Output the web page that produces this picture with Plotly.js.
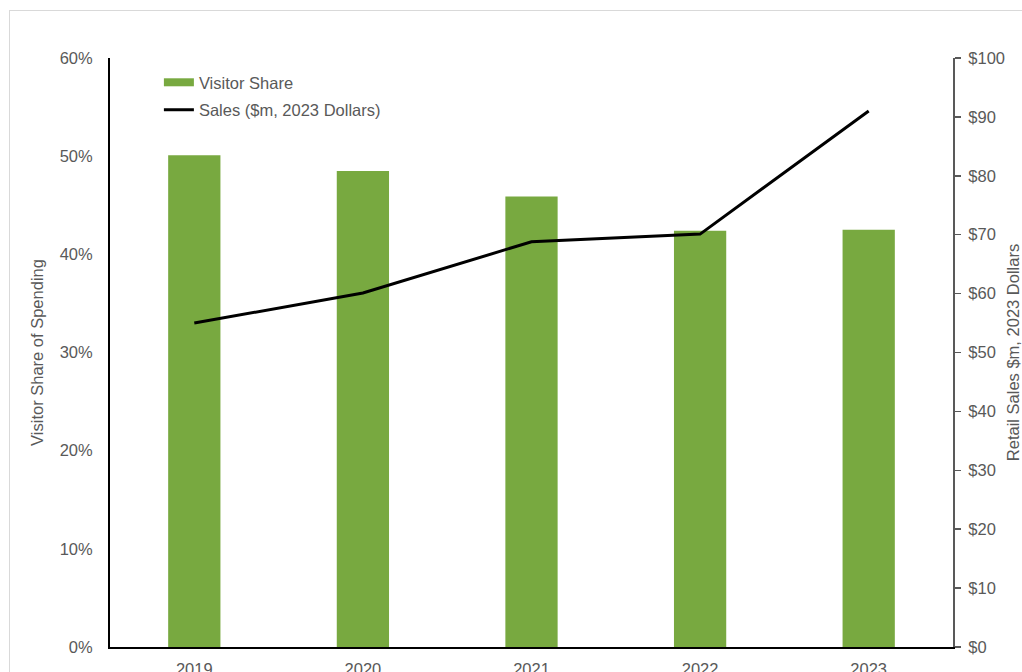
<!DOCTYPE html>
<html>
<head>
<meta charset="utf-8">
<script src="https://cdn.plot.ly/plotly-3.0.1.min.js"></script>
<style>
  html, body { margin: 0; padding: 0; background: #fff; overflow: hidden; }
  #wrap { position: relative; width: 1022px; height: 672px; overflow: hidden; }
  #chart { position: absolute; left: 0; top: 0; width: 1022px; height: 672px; }
  #frame { position: absolute; left: 9px; top: 10px; width: 1200px; height: 900px;
           border: 1px solid #d9d9d9; pointer-events: none; }
</style>
</head>
<body>
<div id="wrap">
  <div id="frame"></div>
  <div id="chart"></div>
</div>
<script>
const years = ['2019', '2020', '2021', '2022', '2023'];
const visitorShare = [0.501, 0.485, 0.459, 0.424, 0.425];
const salesMillions = [55.0, 60.1, 68.8, 70.1, 91.0];
const leftTicks = [0, 0.1, 0.2, 0.3, 0.4, 0.5, 0.6];
const rightTicks = [0, 10, 20, 30, 40, 50, 60, 70, 80, 90, 100];
const rightTickText = rightTicks.map(v => '$' + v);

const green = '#78A940';
const txt = '#595959';
const font = { family: '"Liberation Sans", Arial, sans-serif', size: 16.5, color: txt };

const traces = [
  {
    type: 'bar', x: years, y: visitorShare, name: 'Visitor Share',
    marker: { color: green }, width: 0.31, yaxis: 'y', showlegend: false,
    hoverinfo: 'x+y'
  },
  {
    type: 'scatter', mode: 'lines', x: [null], y: [null], name: 'Visitor Share',
    line: { color: green, width: 8 }, yaxis: 'y', legendgroup: 'a', showlegend: true
  },
  {
    type: 'scatter', mode: 'lines', x: years, y: salesMillions,
    name: 'Sales ($m, 2023 Dollars)', line: { color: '#000000', width: 3 },
    yaxis: 'y2', legendgroup: 'b'
  }
];

const layout = {
  width: 1022, height: 672,
  margin: { l: 110, r: 69, t: 58, b: 25, pad: 0 },
  paper_bgcolor: 'rgba(0,0,0,0)', plot_bgcolor: 'rgba(0,0,0,0)',
  font: font,
  showlegend: true,
  legend: {
    x: 0.058, y: 0.988, xanchor: 'left', yanchor: 'top',
    bgcolor: 'rgba(0,0,0,0)', font: font, tracegroupgap: 3,
    traceorder: 'grouped'
  },
  xaxis: {
    type: 'category', showline: true, linecolor: '#000', linewidth: 2,
    ticks: '', showgrid: false, zeroline: false, tickfont: font,
    ticklabelstandoff: 6
  },
  yaxis: {
    range: [0, 0.6], tickvals: leftTicks, tickformat: '.0%',
    showline: true, linecolor: '#000', linewidth: 2, ticks: '',
    showgrid: false, zeroline: false, tickfont: font, ticklabelstandoff: 12,
    title: { text: 'Visitor Share of Spending', font: font, standoff: 12 }
  },
  yaxis2: {
    range: [0, 100], tickvals: rightTicks, ticktext: rightTickText,
    overlaying: 'y', side: 'right',
    showline: true, linecolor: '#595959', linewidth: 2,
    ticks: 'outside', ticklen: 6, tickcolor: '#595959', tickwidth: 1.5,
    showgrid: false, zeroline: false, tickfont: font, ticklabelstandoff: 4,
    title: { text: 'Retail Sales $m, 2023 Dollars', font: font, standoff: 22 }
  }
};

Plotly.newPlot('chart', traces, layout, { displayModeBar: false, staticPlot: true });
</script>
</body>
</html>
